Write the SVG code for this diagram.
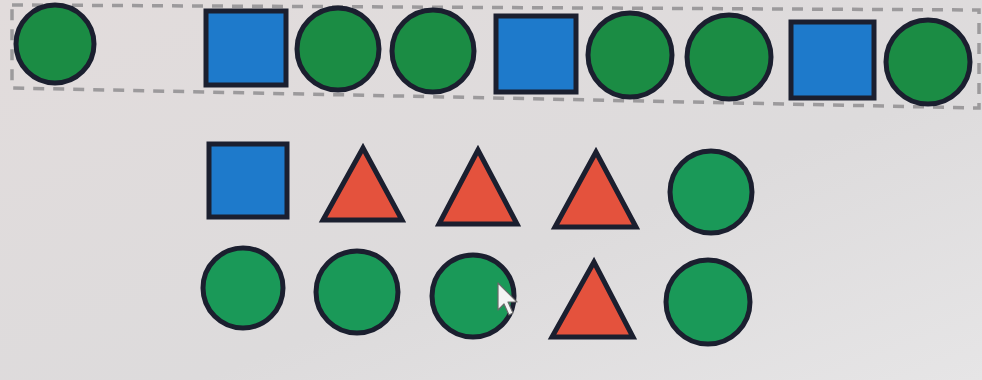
<svg xmlns="http://www.w3.org/2000/svg" width="982" height="380" viewBox="0 0 982 380">
<defs>
<style>
.o{stroke:#1b1f2f;stroke-width:5;stroke-linejoin:miter}
.gt{fill:#1b8c44}
.gb{fill:#1a9958}
.b{fill:#1e7acb}
.r{fill:#e4523d}
.box{fill:none;stroke:#9c9a9c;stroke-width:3.5;stroke-dasharray:11 9}
</style>
<linearGradient id="bg" x1="0" y1="0" x2="1" y2="1">
<stop offset="0" stop-color="#e2dcdc"/>
<stop offset="0.6" stop-color="#dddbdc"/>
<stop offset="1" stop-color="#e6e5e6"/>
</linearGradient>
</defs>
<rect width="982" height="380" fill="url(#bg)"/>
<path class="box" d="M12 5 L979 10 L979 108 L12 88 Z"/>
<g id="top-circle-1"><circle class="o gt" cx="55" cy="44" r="39"/></g>
<g id="top-square-1"><rect class="o b" x="206" y="11" width="80" height="74"/></g>
<g id="top-circle-2"><circle class="o gt" cx="338" cy="49" r="41"/></g>
<g id="top-circle-3"><circle class="o gt" cx="433" cy="51" r="41"/></g>
<g id="top-square-2"><rect class="o b" x="496" y="16" width="80" height="76"/></g>
<g id="top-circle-4"><circle class="o gt" cx="630" cy="55" r="42"/></g>
<g id="top-circle-5"><circle class="o gt" cx="729" cy="57" r="42"/></g>
<g id="top-square-3"><rect class="o b" x="791" y="22" width="83" height="76"/></g>
<g id="top-circle-6"><circle class="o gt" cx="928" cy="62" r="42"/></g>

<g id="mid-square"><rect class="o b" x="209" y="144" width="78" height="73"/></g>
<g id="mid-triangle-1"><polygon class="o r" points="363,148 323,220 402,220"/></g>
<g id="mid-triangle-2"><polygon class="o r" points="478,150 439,224 517,224"/></g>
<g id="mid-triangle-3"><polygon class="o r" points="596,152 555,227 636,227"/></g>
<g id="mid-circle"><circle class="o gb" cx="711" cy="192" r="41"/></g>

<g id="bot-circle-1"><circle class="o gb" cx="243" cy="288" r="40"/></g>
<g id="bot-circle-2"><circle class="o gb" cx="357" cy="292" r="41"/></g>
<g id="bot-circle-3"><circle class="o gb" cx="473" cy="296" r="41"/></g>
<g id="bot-triangle"><polygon class="o r" points="594,262 552,337 633,337"/></g>
<g id="bot-circle-4"><circle class="o gb" cx="708" cy="302" r="42"/></g>

<g id="cursor"><polygon points="498,283 498,310 504,304 509,315 513,313 508,302 517,302" fill="#f4f4f4" stroke="#6a6a6a" stroke-width="1.2" stroke-linejoin="round"/></g>
<g id="connectors"/>
</svg>
